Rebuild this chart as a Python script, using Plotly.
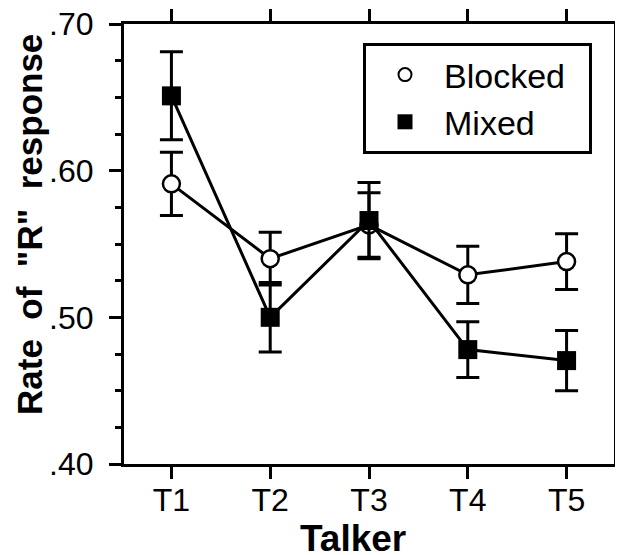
import plotly.graph_objects as go

talkers = ["T1", "T2", "T3", "T4", "T5"]
blocked = [0.591, 0.540, 0.563, 0.529, 0.538]
blocked_err = [0.0215, 0.018, 0.022, 0.0195, 0.019]
mixed = [0.651, 0.500, 0.566, 0.478, 0.4705]
mixed_err = [0.030, 0.0237, 0.026, 0.019, 0.0205]
y_ticks = [0.40, 0.50, 0.60, 0.70]
y_ticklabels = [".40", ".50", ".60", ".70"]

FONT = "Liberation Sans, Arial, sans-serif"
NB = "\u00a0"

# the page body has an 8px default margin; size the figure to fit the 623x555 window
W, H = 615, 547
ML, MT, MR, MB = 116, 16, 9, 91

fig = go.Figure()

fig.add_trace(go.Scatter(
    x=talkers, y=blocked, mode="lines+markers", name="Blocked", showlegend=False,
    line=dict(color="black", width=3),
    marker=dict(symbol="circle", size=17, color="white", line=dict(color="black", width=2.5)),
    error_y=dict(type="data", array=blocked_err, visible=True, color="black", thickness=3, width=11.5),
))
fig.add_trace(go.Scatter(
    x=talkers, y=mixed, mode="lines+markers", name="Mixed", showlegend=False,
    line=dict(color="black", width=3),
    marker=dict(symbol="square", size=19, color="black", line=dict(color="black", width=0)),
    error_y=dict(type="data", array=mixed_err, visible=True, color="black", thickness=3, width=11.5),
))
# legend entries
fig.add_trace(go.Scatter(
    x=[None], y=[None], mode="markers", name="Blocked" + NB * 2,
    marker=dict(symbol="circle", size=13, color="white", line=dict(color="black", width=2)),
))
fig.add_trace(go.Scatter(
    x=[None], y=[None], mode="markers", name="Mixed",
    marker=dict(symbol="square", size=15, color="black"),
))

pw = W - ML - MR
ph = H - MT - MB

fig.update_layout(
    width=W, height=H,
    margin=dict(l=ML, r=MR, t=MT, b=MB, pad=0),
    paper_bgcolor="white", plot_bgcolor="white",
    font=dict(family=FONT, color="black", size=32),
    legend=dict(
        x=(363 - 124) / pw, y=(464 - 43) / ph, xanchor="left", yanchor="top",
        bordercolor="black", borderwidth=3, bgcolor="white",
        font=dict(size=34, family=FONT), itemwidth=68, tracegroupgap=0,
    ),
    annotations=[
        dict(text="<b>Talker</b>", xref="paper", yref="paper", x=(353 - 124) / pw, y=0,
             yshift=-(538 - 464), xanchor="center", yanchor="middle", showarrow=False,
             font=dict(size=37, family=FONT)),
        dict(text=f"<b>Rate{NB} of{NB} \"R\"{NB} response</b>", xref="paper", yref="paper",
             x=0, xshift=-(124 - 29), y=(464 - 225) / ph, textangle=-90,
             xanchor="center", yanchor="middle", showarrow=False,
             font=dict(size=35, family=FONT)),
    ],
)
fig.update_xaxes(
    type="category", range=[-0.48, 4.48], automargin=False,
    showline=True, linecolor="black", linewidth=3, mirror="allticks",
    ticks="outside", ticklen=12, tickwidth=3, tickcolor="black",
    showgrid=False, zeroline=False, ticklabelstandoff=-6, ticklabeloverflow="allow",
    tickfont=dict(size=32, family=FONT),
)
fig.update_yaxes(
    range=[0.40, 0.70], automargin=False,
    tickvals=y_ticks, ticktext=y_ticklabels,
    showline=True, linecolor="black", linewidth=3, mirror="allticks",
    ticks="outside", ticklen=12, tickwidth=3, tickcolor="black",
    minor=dict(dtick=0.025, tick0=0.4, ticks="outside", ticklen=6, tickwidth=3, tickcolor="black", showgrid=False),
    showgrid=False, zeroline=False, ticklabelstandoff=9, ticklabeloverflow="allow",
    tickfont=dict(size=32, family=FONT),
)

fig.write_html("out.html")
